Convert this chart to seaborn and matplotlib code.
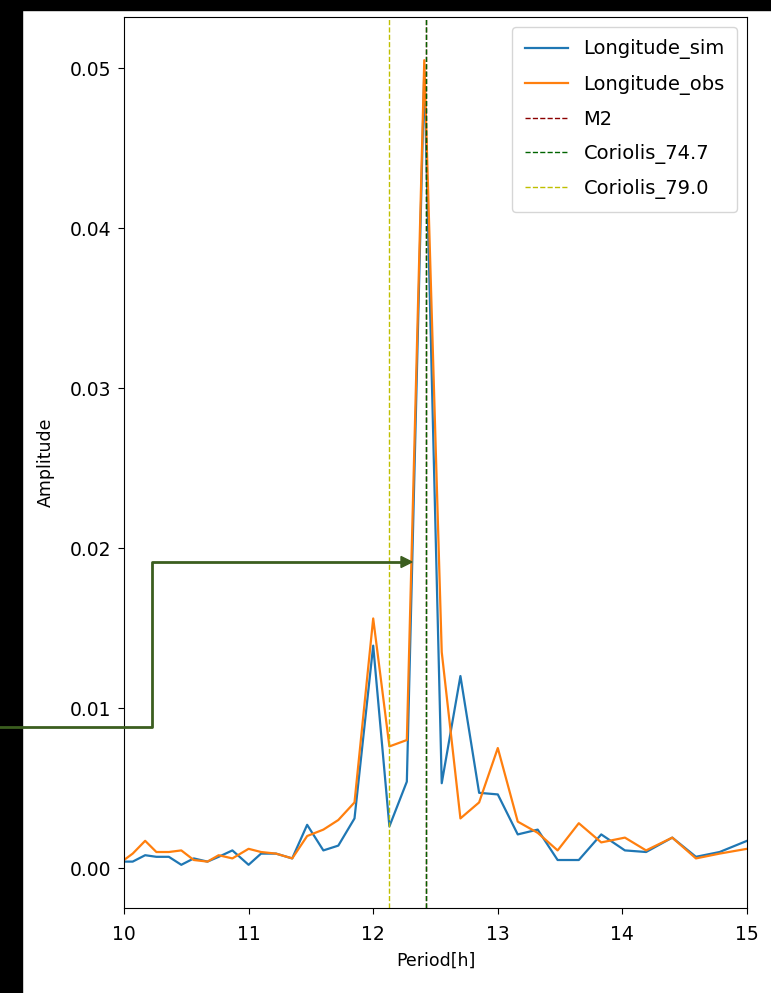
import numpy as np
import pandas as pd
import matplotlib
matplotlib.use("Agg")
import matplotlib.pyplot as plt
import seaborn as sns
from matplotlib.patches import Rectangle, FancyArrow
from matplotlib.lines import Line2D

# Spectrum values
period = [10.00, 10.07, 10.17, 10.26, 10.36, 10.46, 10.56, 10.67, 10.76, 10.87,
          11.00, 11.10, 11.22, 11.35, 11.47, 11.60, 11.72, 11.85, 12.00, 12.13,
          12.27, 12.41, 12.55, 12.70, 12.85, 13.00, 13.16, 13.32, 13.48, 13.65,
          13.83, 14.02, 14.19, 14.40, 14.59, 14.78, 15.00]

amp_sim = [0.0004, 0.0004, 0.0008, 0.0007, 0.0007, 0.0002, 0.0006, 0.0004, 0.0007, 0.0011,
           0.0002, 0.0009, 0.0009, 0.0006, 0.0027, 0.0011, 0.0014, 0.0031, 0.0139, 0.0026,
           0.0054, 0.0498, 0.0053, 0.0120, 0.0047, 0.0046, 0.0021, 0.0024, 0.0005, 0.0005,
           0.0021, 0.0011, 0.0010, 0.0019, 0.0007, 0.0010, 0.0017]

amp_obs = [0.0005, 0.0009, 0.0017, 0.0010, 0.0010, 0.0011, 0.0005, 0.0004, 0.0008, 0.0006,
           0.0012, 0.0010, 0.0009, 0.0006, 0.0020, 0.0024, 0.0030, 0.0041, 0.0156, 0.0076,
           0.0080, 0.0505, 0.0135, 0.0031, 0.0041, 0.0075, 0.0029, 0.0022, 0.0011, 0.0028,
           0.0016, 0.0019, 0.0011, 0.0019, 0.0006, 0.0009, 0.0012]

vline_names = ["M2", "Coriolis_74.7", "Coriolis_79.0"]
vline_pos = [12.42, 12.42, 12.13]
vline_colors = ["darkred", "darkgreen", "y"]

yticks = [0.0, 0.01, 0.02, 0.03, 0.04, 0.05]
ytick_labels = ["0.00", "0.01", "0.02", "0.03", "0.04", "0.05"]

df = pd.DataFrame({"Period": period + period,
                   "Amplitude": amp_sim + amp_obs,
                   "series": ["Longitude_sim"] * len(period) + ["Longitude_obs"] * len(period)})

plt.rcParams["font.family"] = ["DejaVu Sans"]

fig = plt.figure(figsize=(7.71, 9.93), dpi=100)
ax = fig.add_axes([0.1608, 0.0856, 0.9689 - 0.1608, 0.9829 - 0.0856])

sns.lineplot(data=df, x="Period", y="Amplitude", hue="series",
             palette=["tab:blue", "tab:orange"], linewidth=1.6, ax=ax)

for name, xv, col in zip(vline_names, vline_pos, vline_colors):
    ax.axvline(xv, color=col, linestyle="--", linewidth=1, label=name)

ax.set_xlim(10, 15)
ax.set_ylim(-0.0025, 0.0532)
ax.set_xlabel("Period[h]", fontsize=12.5, labelpad=6)
ax.set_ylabel("Amplitude", fontsize=12.5, labelpad=11)
ax.set_yticks(yticks)
ax.set_yticklabels(ytick_labels)
ax.tick_params(labelsize=13.5, length=4)
ax.tick_params(axis="x", pad=8)
ax.tick_params(axis="y", pad=5)

handles, labels = ax.get_legend_handles_labels()
ax.legend(handles, labels, loc="upper right", fontsize=14,
          handlelength=2.2, labelspacing=0.78, borderpad=0.65)

# black screenshot border
fig.patches.append(Rectangle((0, 0), 22 / 771, 1, transform=fig.transFigure,
                             color="black", zorder=10))
fig.patches.append(Rectangle((0, 1 - 10 / 993), 1, 10 / 993, transform=fig.transFigure,
                             color="black", zorder=10))

# green arrow overlay
green = "#3b5e1f"
def fx(px):
    return px / 771
def fy(py):
    return 1 - py / 993
fig.lines.append(Line2D([fx(0), fx(152), fx(152), fx(403)],
                        [fy(727), fy(727), fy(562), fy(562)],
                        transform=fig.transFigure, color=green, linewidth=2, zorder=11))
fig.patches.append(FancyArrow(
    fx(401), fy(562), fx(11), 0, width=0.0, head_width=11 / 993, head_length=11 / 771,
    length_includes_head=True, transform=fig.transFigure, color=green, zorder=11))

fig.savefig("out.png", dpi=100)
